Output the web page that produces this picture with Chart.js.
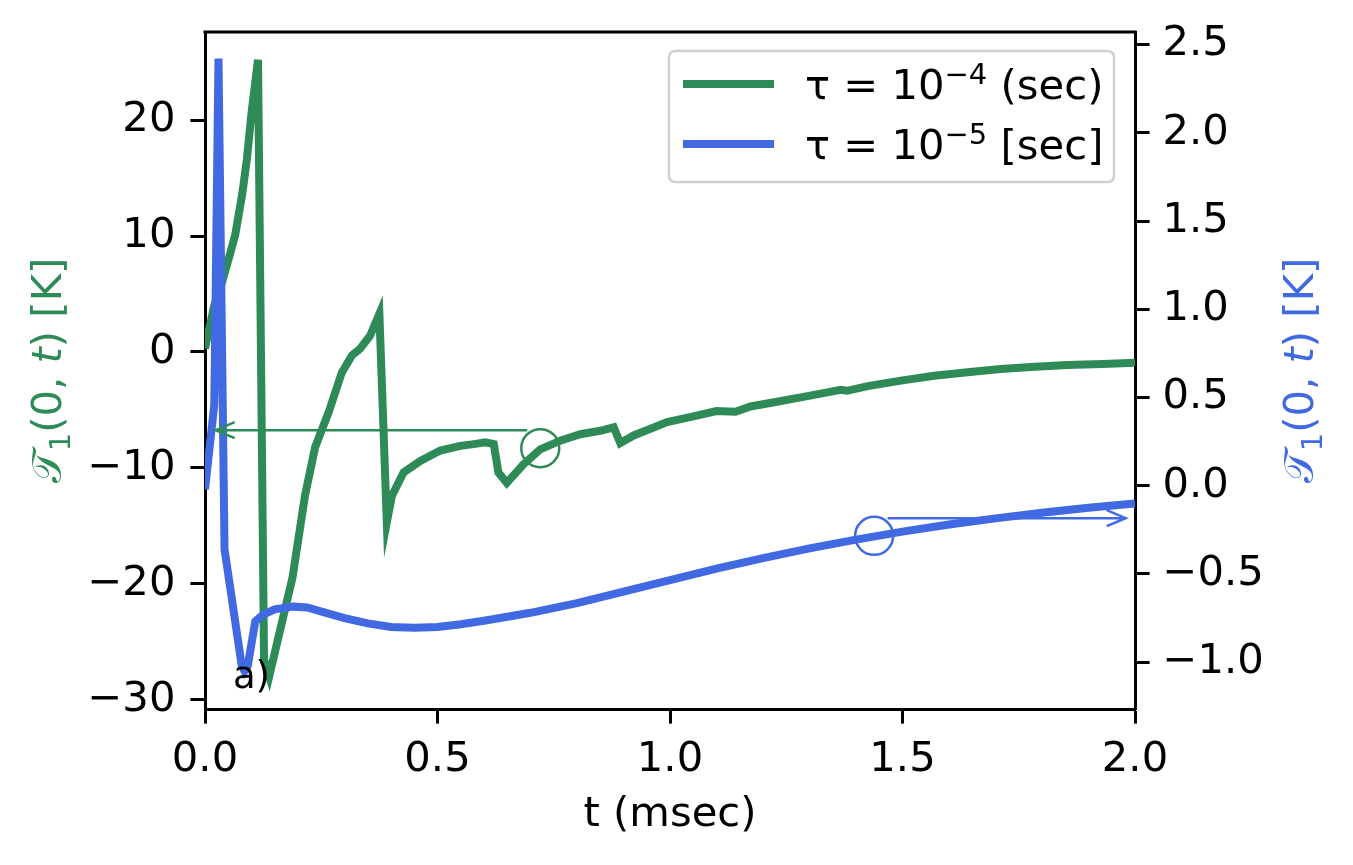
<!DOCTYPE html>
<html>
<head>
<meta charset="utf-8">
<script src="https://cdn.jsdelivr.net/npm/chart.js@4.4.1/dist/chart.umd.min.js"></script>
<style>
  html, body { margin: 0; padding: 0; background: #fff; }
  canvas { display: block; }
</style>
</head>
<body>
<canvas id="chart" width="1353" height="865"></canvas>
<script>
// time in msec, temperatures in K
const greenT = [0, 0.02, 0.035, 0.05, 0.065, 0.08, 0.09, 0.1, 0.114, 0.127, 0.138, 0.188, 0.215, 0.237, 0.266,
  0.294, 0.316, 0.334, 0.355, 0.375, 0.391, 0.402, 0.427, 0.463, 0.506, 0.549, 0.578, 0.603, 0.621, 0.631,
  0.649, 0.685, 0.721, 0.764, 0.807, 0.85, 0.879, 0.893, 0.922, 0.994, 1.05, 1.1, 1.141, 1.173, 1.23, 1.281,
  1.33, 1.367, 1.381, 1.425, 1.5, 1.568, 1.64, 1.711, 1.785, 1.855, 1.93, 2.0];
const greenTemp = [0.3, 4.0, 5.8, 7.9, 10.1, 13.6, 16.6, 20.6, 25.2, -26.6, -28.0, -19.5, -12.4, -8.2, -5.2,
  -1.8, -0.3, 0.3, 1.4, 3.3, -14.7, -12.4, -10.4, -9.4, -8.5, -8.1, -7.95, -7.8, -7.95, -10.4,
  -11.3, -9.7, -8.4, -7.65, -7.1, -6.8, -6.5, -7.85, -7.2, -6.05, -5.55, -5.1, -5.15, -4.7, -4.3, -3.92,
  -3.55, -3.27, -3.35, -2.95, -2.45, -2.05, -1.75, -1.47, -1.28, -1.12, -1.03, -0.93];

const blueT = [0, 0.02, 0.029, 0.042, 0.079, 0.085, 0.092, 0.108, 0.125, 0.15, 0.19, 0.22, 0.26, 0.3, 0.35,
  0.4, 0.45, 0.5, 0.55, 0.6, 0.7, 0.8, 0.9, 1.0, 1.1, 1.2, 1.3, 1.4, 1.5, 1.6, 1.7, 1.8, 1.9, 2.0];
const blueTemp = [-0.02, 0.46, 2.42, -0.36, -1.02, -1.05, -1.02, -0.77, -0.73, -0.70, -0.685, -0.69, -0.72, -0.75, -0.78,
  -0.80, -0.805, -0.80, -0.785, -0.765, -0.72, -0.665, -0.60, -0.535, -0.47, -0.41, -0.355, -0.305, -0.26, -0.22, -0.185, -0.153, -0.125, -0.10];

const xTicks = [0, 0.5, 1.0, 1.5, 2.0];
const leftTicks = [-30, -20, -10, 0, 10, 20];
const rightTicks = [-1.0, -0.5, 0.0, 0.5, 1.0, 1.5, 2.0, 2.5];

const seriesNames = [['τ = 10', '−4', ' (sec)'], ['τ = 10', '−5', ' [sec]']];

// annotation marks: circle centre [t, T] and arrow [t from, t to, T]
const greenCircle = [0.721, -8.3];
const greenArrow = [0.693, 0.023, -6.75];
const blueCircle = [1.439, -0.284];
const blueArrow = [1.468, 1.98, -0.184];
const panelLabel = [0.06, -29.0, 'a)'];

const GREEN = '#2E8B57';
const BLUE = '#4169E1';
const FONT = '"DejaVu Sans", "Noto Sans", sans-serif';
const FS = 41.7;

function minus(s) { return s.replace('-', '−'); }

function drawParts(ctx, parts, x, y, color, center) {
  let total = 0;
  parts.forEach(p => { ctx.font = p.font; p.w = ctx.measureText(p.text).width; total += p.w; });
  let cx = center ? x - total / 2 : x;
  ctx.fillStyle = color;
  ctx.textAlign = 'left';
  ctx.textBaseline = 'alphabetic';
  parts.forEach(p => { ctx.font = p.font; ctx.fillText(p.text, cx, y + (p.dy || 0)); cx += p.w; });
}

function arrow(ctx, x0, x1, y, color) {
  const dir = x1 > x0 ? 1 : -1;
  ctx.strokeStyle = color;
  ctx.lineWidth = 2.5;
  ctx.beginPath();
  ctx.moveTo(x0, y); ctx.lineTo(x1, y);
  ctx.moveTo(x1 - dir * 19, y - 8); ctx.lineTo(x1, y); ctx.lineTo(x1 - dir * 19, y + 8);
  ctx.stroke();
}

const extras = {
  id: 'extras',
  afterDatasetsDraw(chart) {
    const { ctx, chartArea: a, scales: { x, y, y1 } } = chart;
    ctx.save();

    // top spine
    ctx.strokeStyle = '#000';
    ctx.lineWidth = 3;
    ctx.beginPath();
    ctx.moveTo(a.left - 1.5, a.top); ctx.lineTo(a.right + 1.5, a.top);
    ctx.stroke();

    // circles and arrows
    ctx.lineWidth = 2.5;
    ctx.strokeStyle = GREEN;
    ctx.beginPath();
    ctx.arc(x.getPixelForValue(greenCircle[0]), y.getPixelForValue(greenCircle[1]), 19, 0, Math.PI * 2);
    ctx.stroke();
    arrow(ctx, x.getPixelForValue(greenArrow[0]), x.getPixelForValue(greenArrow[1]), y.getPixelForValue(greenArrow[2]), GREEN);
    ctx.strokeStyle = BLUE;
    ctx.beginPath();
    ctx.arc(x.getPixelForValue(blueCircle[0]), y1.getPixelForValue(blueCircle[1]), 19, 0, Math.PI * 2);
    ctx.stroke();
    arrow(ctx, x.getPixelForValue(blueArrow[0]), x.getPixelForValue(blueArrow[1]), y1.getPixelForValue(blueArrow[2]), BLUE);

    // panel label
    ctx.fillStyle = '#000';
    ctx.font = '37px ' + FONT;
    ctx.textAlign = 'left';
    ctx.textBaseline = 'alphabetic';
    ctx.fillText(panelLabel[2], x.getPixelForValue(panelLabel[0]), y.getPixelForValue(panelLabel[1]));

    // legend
    const lx = a.right - 466, ly = a.top + 19, lw = 445, lh = 131;
    ctx.beginPath();
    ctx.roundRect(lx, ly, lw, lh, 6);
    ctx.fillStyle = 'rgba(255,255,255,0.8)';
    ctx.fill();
    ctx.strokeStyle = '#d0d0d0';
    ctx.lineWidth = 2.5;
    ctx.stroke();
    chart.data.datasets.forEach((ds, i) => {
      const ry = ly + 33 + i * 60;
      ctx.strokeStyle = ds.borderColor;
      ctx.lineWidth = 8;
      ctx.beginPath();
      ctx.moveTo(lx + 14, ry); ctx.lineTo(lx + 105, ry);
      ctx.stroke();
      const n = seriesNames[i];
      drawParts(ctx, [
        { text: n[0], font: FS + 'px ' + FONT },
        { text: n[1], font: '29px ' + FONT, dy: -15 },
        { text: n[2], font: FS + 'px ' + FONT }
      ], lx + 136, ry + 15, '#000', false);
    });

    // axis titles
    const base = FS + 'px ' + FONT;
    const titleParts = () => [
      { text: '𝒯', font: base },
      { text: '1', font: '29px ' + FONT, dy: 9 },
      { text: '(0, ', font: base },
      { text: 't', font: 'italic ' + base },
      { text: ') [K]', font: base }
    ];
    const midY = (a.top + a.bottom) / 2;
    ctx.save();
    ctx.translate(61, midY);
    ctx.rotate(-Math.PI / 2);
    drawParts(ctx, titleParts(), 0, 0, GREEN, true);
    ctx.restore();
    ctx.save();
    ctx.translate(1313, midY);
    ctx.rotate(-Math.PI / 2);
    drawParts(ctx, titleParts(), 0, 0, BLUE, true);
    ctx.restore();
    drawParts(ctx, [{ text: 't (msec)', font: base }], (a.left + a.right) / 2, 826, '#000', true);

    ctx.restore();
  }
};

const tickStyle = { color: '#000', font: { family: FONT, size: FS } };
const gridStyle = { drawOnChartArea: false, drawTicks: true, tickLength: 14.6, tickWidth: 3, tickColor: '#000', color: '#000' };
const borderStyle = { display: true, color: '#000', width: 3 };

// fixed box sizes so the plot area lands where the picture has it
function fixBox(w, h) {
  return s => {
    if (w) s.width = w;
    if (h) s.height = h;
    s.paddingTop = 0; s.paddingBottom = 0; s.paddingLeft = 0; s.paddingRight = 0;
  };
}

new Chart(document.getElementById('chart'), {
  type: 'line',
  data: {
    datasets: [
      {
        label: seriesNames[0].join(''),
        data: greenT.map((t, i) => ({ x: t, y: greenTemp[i] })),
        borderColor: GREEN,
        borderWidth: 8,
        pointRadius: 0,
        tension: 0,
        yAxisID: 'y',
        order: 1
      },
      {
        label: seriesNames[1].join(''),
        data: blueT.map((t, i) => ({ x: t, y: blueTemp[i] })),
        borderColor: BLUE,
        borderWidth: 8,
        pointRadius: 0,
        tension: 0,
        yAxisID: 'y1',
        order: 0
      }
    ]
  },
  options: {
    responsive: false,
    animation: false,
    events: [],
    layout: { padding: { top: 32, left: 0, right: 0, bottom: 0 } },
    plugins: { legend: { display: false }, tooltip: { enabled: false } },
    scales: {
      x: {
        type: 'linear',
        min: 0, max: 2,
        afterBuildTicks: s => { s.ticks = xTicks.map(v => ({ value: v })); },
        ticks: { ...tickStyle, padding: 12, maxRotation: 0, callback: v => v.toFixed(1) },
        grid: gridStyle,
        border: borderStyle,
        afterFit: fixBox(0, 156)
      },
      y: {
        position: 'left',
        min: -30.8, max: 27.6,
        afterBuildTicks: s => { s.ticks = leftTicks.map(v => ({ value: v })); },
        ticks: { ...tickStyle, padding: 15, callback: v => minus(String(v)) },
        grid: gridStyle,
        border: borderStyle,
        afterFit: fixBox(205, 0)
      },
      y1: {
        position: 'right',
        min: -1.265, max: 2.571,
        afterBuildTicks: s => { s.ticks = rightTicks.map(v => ({ value: v })); },
        ticks: { ...tickStyle, padding: 13, callback: v => minus(v.toFixed(1)) },
        grid: gridStyle,
        border: borderStyle,
        afterFit: fixBox(218, 0)
      }
    }
  },
  plugins: [extras]
});
</script>
</body>
</html>
